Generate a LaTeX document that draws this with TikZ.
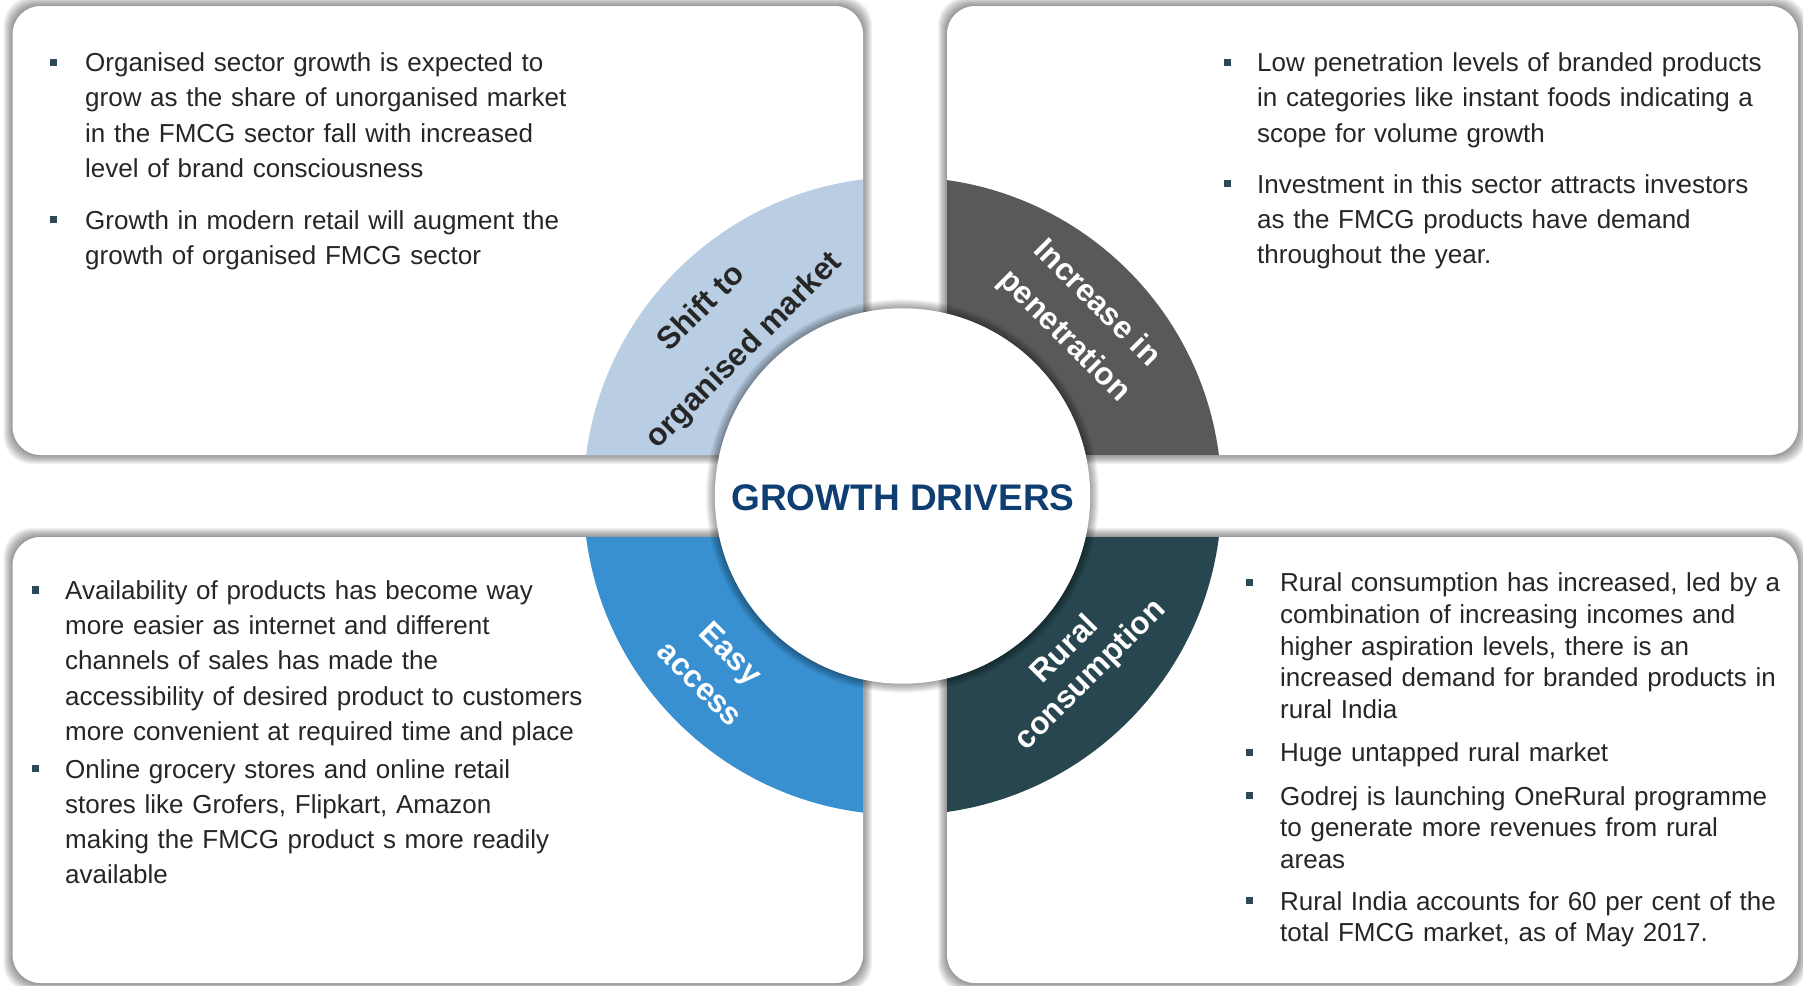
\documentclass[tikz,border=0pt]{standalone}
\usepackage{fontspec}
\setmainfont{Liberation Sans}
\definecolor{txt}{HTML}{262626}
\definecolor{ringA}{HTML}{B9CDE3}
\definecolor{ringB}{HTML}{595959}
\definecolor{ringC}{HTML}{3890D0}
\definecolor{ringD}{HTML}{27464F}
\definecolor{titleblue}{HTML}{0F3F72}
\definecolor{bulletcol}{HTML}{2B4A55}
\newcommand\gdshadowbox[4]{%
  \foreach \k in {1,...,9}{\fill[black,opacity=0.05,rounded corners=28pt] ({#1-\k},{#2-\k}) rectangle ({#3+\k},{#4+\k});}%
  \fill[white,rounded corners=28pt] (#1,#2) rectangle (#3,#4);}
\newcommand\gdringpart[5]{%
  \begin{scope}
    \clip[rounded corners=28pt] (#1,#2) rectangle (#3,#4);
    \fill[#5] (C) circle (319pt);
  \end{scope}}
\begin{document}
\begin{tikzpicture}[x=1pt,y=-1pt,
  body/.style={anchor=base west, inner sep=0pt, text width=620pt, align=left, text=txt, font=\fontsize{26}{35.2}\selectfont},
  bodyr/.style={body, font=\fontsize{26}{31.7}\selectfont},
  bsq/.style={rectangle, fill=bulletcol, draw=none, minimum size=7.3pt, inner sep=0pt},
  ringlabel/.style={inner sep=0pt, align=center, text=white, font=\fontsize{31.5}{36}\selectfont\bfseries},
  hubstyle/.style={circle, fill=white, draw=none, minimum size=375.4pt, inner sep=0pt},
  titlestyle/.style={anchor=base, inner sep=0pt, text=titleblue, font=\fontsize{37}{44}\selectfont\bfseries}]
\useasboundingbox (0,0) rectangle (1803,985);
\fill[white] (0,0) rectangle (1803,985);
\coordinate (C) at (902.5,496);
% boxes with soft shadows
\gdshadowbox{12.6}{6}{863}{455}
\gdshadowbox{947}{6}{1798}{455}
\gdshadowbox{12.6}{537}{863}{983}
\gdshadowbox{947}{537}{1798}{983}
% ring quadrants, clipped to the boxes
\gdringpart{12.6}{6}{863}{455}{ringA}
\gdringpart{947}{6}{1798}{455}{ringB}
\gdringpart{12.6}{537}{863}{983}{ringC}
\gdringpart{947}{537}{1798}{983}{ringD}
% hub shadow and hub
\foreach \k in {1,...,9}{\fill[black,opacity=0.045] (C) circle ({(187.7+\k)*1pt});}
\node[hubstyle] (hub) at (C) {};
\node[titlestyle] (title) at (903,510.4) {GROWTH DRIVERS};
% ring labels
\node[ringlabel, text=txt, rotate=45] (lblA) at (723.3,330) {Shift to\\[24pt]organised market};
\node[ringlabel, rotate=-45] (lblB) at (1080,320) {Increase in\\[10pt]penetration};
\node[ringlabel, rotate=-45] (lblC) at (715.8,668.3) {Easy\\[7pt]access};
\node[ringlabel, rotate=45] (lblD) at (1078.3,662.8) {Rural\\consumption};
% top-left text
\node[bsq] (b1) at (53.7,62.2) {};
\node[body] (p1) at (85,71.7) {Organised sector growth is expected to\\grow as the share of unorganised market\\in the FMCG sector fall with increased\\level of brand consciousness};
\node[bsq] (b2) at (53.7,219.8) {};
\node[body] (p2) at (85,229.3) {Growth in modern retail will augment the\\growth of organised FMCG sector};
% top-right text
\node[bsq] (b3) at (1227.5,62.2) {};
\node[body] (p3) at (1257,71.7) {Low penetration levels of branded products\\in categories like instant foods indicating a\\scope for volume growth};
\node[bsq] (b4) at (1227.5,183.8) {};
\node[body] (p4) at (1257,193.3) {Investment in this sector attracts investors\\as the FMCG products have demand\\throughout the year.};
% bottom-left text
\node[bsq] (b5) at (35.3,590) {};
\node[body] (p5) at (65,599.5) {Availability of products has become way\\more easier as internet and different\\channels of sales has made the\\accessibility of desired product to customers\\more convenient at required time and place};
\node[bsq] (b6) at (35.3,768.5) {};
\node[body] (p6) at (65,778) {Online grocery stores and online retail\\stores like Grofers, Flipkart, Amazon\\making the FMCG product s more readily\\available};
% bottom-right text
\node[bsq] (b7) at (1249.4,582.2) {};
\node[bodyr] (p7) at (1280,591.7) {Rural consumption has increased, led by a\\combination of increasing incomes and\\higher aspiration levels, there is an\\increased demand for branded products in\\rural India};
\node[bsq] (b8) at (1249.4,752.2) {};
\node[bodyr] (p8) at (1280,761.7) {Huge untapped rural market};
\node[bsq] (b9) at (1249.4,795.5) {};
\node[bodyr] (p9) at (1280,805) {Godrej is launching OneRural programme\\to generate more revenues from rural\\areas};
\node[bsq] (b10) at (1249.4,900.5) {};
\node[bodyr] (p10) at (1280,910) {Rural India accounts for 60 per cent of the\\total FMCG market, as of May 2017.};
\end{tikzpicture}
\end{document}
